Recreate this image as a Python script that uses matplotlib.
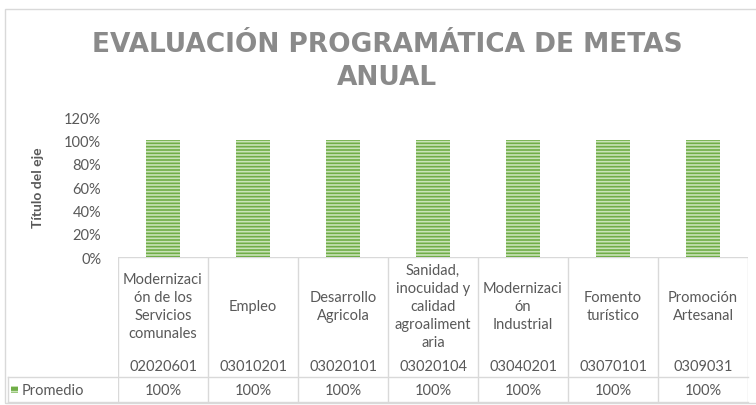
import matplotlib.pyplot as plt
from matplotlib.patches import Rectangle
from matplotlib.lines import Line2D

# ---------------------------------------------------------
# DATA

categorias = [
    'Modernizaci\nón de los\nServicios\ncomunales',
    'Empleo',
    'Desarrollo\nAgricola',
    'Sanidad,\ninocuidad y\ncalidad\nagroaliment\naria',
    'Modernizaci\nón\nIndustrial',
    'Fomento\nturístico',
    'Promoción\nArtesanal',
]
codigos = ['02020601', '03010201', '03020101', '03020104',
           '03040201', '03070101', '0309031']
promedio = [1.0, 1.0, 1.0, 1.0, 1.0, 1.0, 1.0]
yTicks = [0, 0.2, 0.4, 0.6, 0.8, 1.0, 1.2]

# ---------------------------------------------------------
# STYLE

W, H = 756, 406
gris = '#595959'
verde = '#70ad47'
plt.rcParams['font.family'] = ['Lato', 'DejaVu Sans']
plt.rcParams['hatch.linewidth'] = 1.2
plt.rcParams['hatch.color'] = '#c9e3b8'

fig = plt.figure(figsize=(W / 100, H / 100), dpi=100)

def px(x0, y0, x1, y1):
    # pixel box (top-left origin) -> figure fraction
    return [x0 / W, 1 - y1 / H, (x1 - x0) / W, (y1 - y0) / H]

# outer chart border
fig.patches.append(Rectangle((5 / W, 2 / H), 760 / W, (H - 12) / H,
                             transform=fig.transFigure, fill=False,
                             edgecolor='#d9d9d9', linewidth=1))

# title
for t, yy in [('EVALUACIÓN PROGRAMÁTICA DE METAS', 45), ('ANUAL', 78)]:
    fig.text(387 / W, 1 - yy / H, t, ha='center', va='center',
             fontsize=19, color='#8a8a8a', fontweight='bold',
             family=['DejaVu Sans'])

# ---------------------------------------------------------
# BAR AREA

x0, x1 = 118, 748
ax = fig.add_axes(px(x0, 118, x1, 258))
idx = list(range(len(categorias)))
ax.bar(idx, promedio, width=34 / 90, color=verde, hatch='-----',
       edgecolor='#c9e3b8', linewidth=0)
ax.set_xlim(-0.5, len(categorias) - 0.5)
ax.set_ylim(0, 1.2)
ax.set_yticks(yTicks)
ax.set_yticklabels(['{:.0f}%'.format(v * 100) for v in yTicks])
ax.tick_params(axis='y', length=0, pad=12, labelsize=10.5, colors=gris)
ax.set_xticks([])
for s in ax.spines.values():
    s.set_visible(False)
fig.text(38 / W, 1 - 188 / H, 'Título del eje', rotation=90, ha='center',
         va='center', fontsize=10, fontweight='bold', color=gris)

# ---------------------------------------------------------
# DATA TABLE

tb = fig.add_axes(px(x0, 258, x1, 404))
tb.set_xlim(-0.5, len(categorias) - 0.5)
tb.set_ylim(146, 0)
tb.axis('off')
lc = '#d9d9d9'
leftX = -0.5 - (x0 - 8) / 90.0
n = len(categorias)
tb.add_line(Line2D([-0.5, n - 0.5], [0, 0], color=lc, lw=1))
tb.add_line(Line2D([leftX, n - 0.5], [120, 120], color=lc, lw=1, clip_on=False))
tb.add_line(Line2D([leftX, n - 0.5], [145, 145], color=lc, lw=1, clip_on=False))
tb.add_line(Line2D([leftX, leftX], [120, 145], color=lc, lw=1, clip_on=False))
for i in range(n + 1):
    tb.add_line(Line2D([i - 0.5, i - 0.5], [0, 145], color=lc, lw=1))

for i in idx:
    tb.text(i, 49, categorias[i], ha='center', va='center', fontsize=10.5,
            color=gris, linespacing=1.35)
    tb.text(i, 109, codigos[i], ha='center', va='center', fontsize=10.5,
            color=gris)
    tb.text(i, 133, '{:.0f}%'.format(promedio[i] * 100), ha='center',
            va='center', fontsize=10.5, color=gris)

# legend key in the table
tb.add_patch(Rectangle((leftX + 3 / 90, 129), 7 / 90, 7, facecolor=verde,
                       hatch='---', edgecolor='#c9e3b8', lw=0, clip_on=False))
tb.text(leftX + 14 / 90, 133, 'Promedio', ha='left', va='center',
        fontsize=10.5, color=gris, clip_on=False)

fig.savefig('out.png', dpi=100)
